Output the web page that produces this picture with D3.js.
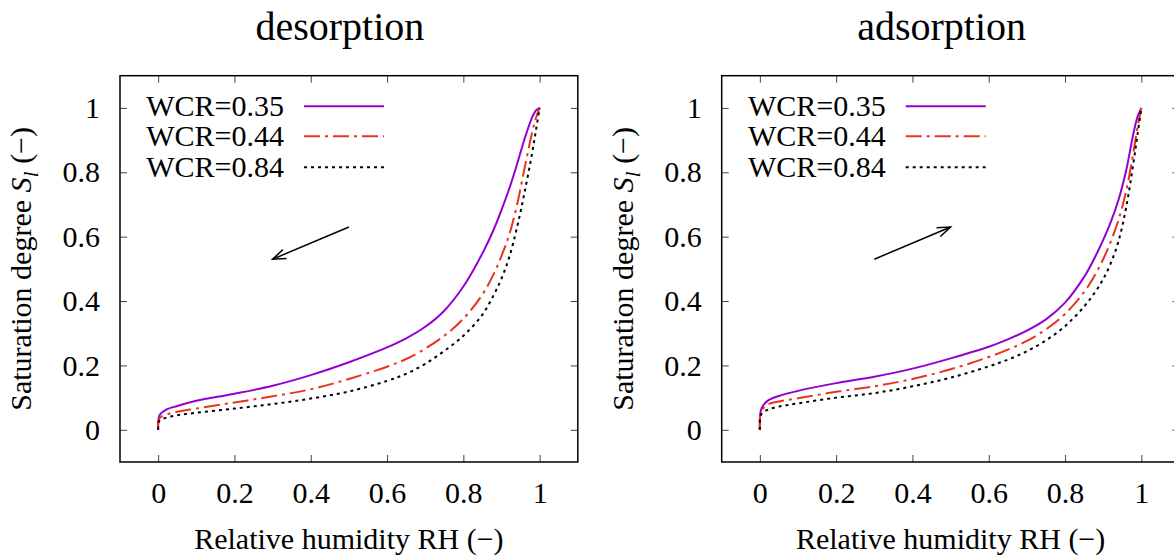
<!DOCTYPE html>
<html>
<head>
<meta charset="utf-8">
<script src="https://cdn.jsdelivr.net/npm/d3@7"></script>
<style>
  body { margin: 0; background: #fff; }
  svg text { font-family: "Liberation Serif", "Times New Roman", Times, "Nimbus Roman", "Noto Serif", "DejaVu Serif", serif; fill: #000; }
</style>
</head>
<body>
<div id="chart"></div>
<script>
// relative humidity sample points (shared by all curves)
const rh = [0, 0.001, 0.005, 0.02, 0.05, 0.1, 0.2, 0.3, 0.4, 0.5, 0.6, 0.65, 0.7, 0.75, 0.8, 0.85, 0.88, 0.9, 0.92, 0.94, 0.96, 0.98, 0.99, 1];

// desorption saturation degree
const desWcr035 = [0, 0.035, 0.048, 0.062, 0.074, 0.090, 0.112, 0.137, 0.170, 0.210, 0.256, 0.284, 0.320, 0.370, 0.445, 0.548, 0.623, 0.683, 0.748, 0.822, 0.902, 0.970, 0.992, 1];
const desWcr044 = [0, 0.028, 0.038, 0.047, 0.056, 0.066, 0.085, 0.104, 0.126, 0.158, 0.196, 0.220, 0.252, 0.292, 0.345, 0.420, 0.485, 0.540, 0.605, 0.695, 0.810, 0.922, 0.968, 1];
const desWcr084 = [0, 0.022, 0.030, 0.037, 0.045, 0.053, 0.066, 0.080, 0.097, 0.119, 0.152, 0.174, 0.205, 0.245, 0.292, 0.358, 0.420, 0.470, 0.535, 0.625, 0.735, 0.858, 0.928, 1];

// adsorption saturation degree
const adsWcr035 = [0, 0.050, 0.068, 0.090, 0.105, 0.121, 0.145, 0.165, 0.190, 0.222, 0.258, 0.281, 0.308, 0.343, 0.395, 0.475, 0.540, 0.590, 0.646, 0.714, 0.805, 0.925, 0.972, 1];
const adsWcr044 = [0, 0.045, 0.060, 0.078, 0.088, 0.098, 0.118, 0.135, 0.158, 0.188, 0.226, 0.249, 0.276, 0.312, 0.360, 0.428, 0.484, 0.530, 0.585, 0.652, 0.740, 0.868, 0.940, 1];
const adsWcr084 = [0, 0.038, 0.050, 0.062, 0.072, 0.082, 0.100, 0.114, 0.135, 0.162, 0.197, 0.218, 0.244, 0.278, 0.322, 0.383, 0.430, 0.468, 0.518, 0.585, 0.690, 0.835, 0.918, 1];

const seriesNames = ["WCR=0.35", "WCR=0.44", "WCR=0.84"];
const panelTitles = ["desorption", "adsorption"];
const tickValues = [0, 0.2, 0.4, 0.6, 0.8, 1];
const tickLabels = ["0", "0.2", "0.4", "0.6", "0.8", "1"];
// arrow [from, to] in data coords
const desArrow = [[0.5, 0.63], [0.3, 0.53]];
const adsArrow = [[0.3, 0.53], [0.5, 0.63]];

const colors = ["#9400d3", "#e8331f", "#000000"];
const dashes = [null, "16,5,3,5", "3,4"];
const serif = '"Liberation Serif", "Times New Roman", Times, "Nimbus Roman", "Noto Serif", "DejaVu Serif", serif';

const W = 1174, H = 557;
const svg = d3.select("#chart").append("svg")
    .attr("width", W)
    .attr("height", H);

const panels = [
  { left: 120, title: panelTitles[0], data: [desWcr035, desWcr044, desWcr084], arrow: desArrow },
  { left: 721.7, title: panelTitles[1], data: [adsWcr035, adsWcr044, adsWcr084], arrow: adsArrow }
];

const pw = 457.8, ph = 386.3, plotTop = 75.7;

panels.forEach(function(p) {
  const g = svg.append("g").attr("transform", "translate(" + p.left + "," + plotTop + ")");

  const x = d3.scaleLinear().domain([-0.1, 1.1]).range([0, pw]);
  const y = d3.scaleLinear().domain([-0.1, 1.1]).range([ph, 0]);

  // axes with inward ticks on all sides
  const fmt = d => tickLabels[tickValues.indexOf(d)];
  const xAxis = g.append("g").attr("transform", "translate(0," + ph + ")")
    .call(d3.axisBottom(x).tickValues(tickValues).tickFormat(fmt).tickSize(-7).tickPadding(22))
    .call(a => a.select(".domain").remove());
  g.append("g")
    .call(d3.axisTop(x).tickValues(tickValues).tickFormat("").tickSize(-7))
    .call(a => a.select(".domain").remove());
  g.append("g")
    .call(d3.axisLeft(y).tickValues(tickValues).tickFormat(fmt).tickSize(-7).tickPadding(20))
    .call(a => a.select(".domain").remove());
  g.append("g").attr("transform", "translate(" + pw + ",0)")
    .call(d3.axisRight(y).tickValues(tickValues).tickFormat("").tickSize(-7))
    .call(a => a.select(".domain").remove());

  g.selectAll("g").attr("font-family", serif);
  g.selectAll(".tick line").attr("stroke", "#444").attr("stroke-width", 1);
  g.selectAll(".tick text")
    .style("font-family", serif)
    .style("font-size", "30px")
    .attr("fill", "#000");
  xAxis.selectAll(".tick text").attr("dy", "0.62em");

  // frame
  g.append("rect")
    .attr("x", 0).attr("y", 0)
    .attr("width", pw).attr("height", ph)
    .attr("fill", "none")
    .attr("stroke", "#000")
    .attr("stroke-width", 1.5);

  // curves
  const line = d3.line()
    .x((d, i) => x(rh[i]))
    .y(d => y(d))
    .curve(d3.curveCatmullRom.alpha(0.5));

  p.data.forEach(function(vals, k) {
    g.append("path")
      .datum(vals)
      .attr("d", line)
      .attr("fill", "none")
      .attr("stroke", colors[k])
      .attr("stroke-width", 2)
      .attr("stroke-dasharray", dashes[k]);
  });

  // legend
  const legendRows = [30.6, 60.6, 91.6];
  seriesNames.forEach(function(name, k) {
    g.append("text")
      .attr("x", 164).attr("y", legendRows[k] + 10)
      .attr("text-anchor", "end")
      .style("font-size", "30px")
      .text(name);
    g.append("line")
      .attr("x1", 184).attr("x2", 264)
      .attr("y1", legendRows[k]).attr("y2", legendRows[k])
      .attr("stroke", colors[k])
      .attr("stroke-width", 2)
      .attr("stroke-dasharray", dashes[k]);
  });

  // arrow
  const a0 = p.arrow[0], a1 = p.arrow[1];
  const x0 = x(a0[0]), y0 = y(a0[1]), x1 = x(a1[0]), y1 = y(a1[1]);
  const ang = Math.atan2(y1 - y0, x1 - x0);
  const hl = 14, ha = 0.35;
  g.append("line")
    .attr("x1", x0).attr("y1", y0).attr("x2", x1).attr("y2", y1)
    .attr("stroke", "#000").attr("stroke-width", 1.5);
  g.append("path")
    .attr("d", "M" + (x1 - hl * Math.cos(ang - ha)) + "," + (y1 - hl * Math.sin(ang - ha)) +
               "L" + x1 + "," + y1 +
               "L" + (x1 - hl * Math.cos(ang + ha)) + "," + (y1 - hl * Math.sin(ang + ha)))
    .attr("fill", "none").attr("stroke", "#000").attr("stroke-width", 1.5);

  // title
  g.append("text")
    .attr("x", pw / 2 - 9).attr("y", 40 - plotTop)
    .attr("text-anchor", "middle")
    .style("font-size", "40px")
    .text(p.title);

  // x label
  g.append("text")
    .attr("x", pw / 2).attr("y", 549 - plotTop)
    .attr("text-anchor", "middle")
    .style("font-size", "30px")
    .text("Relative humidity RH (\u2212)");

  // y label
  const yl = g.append("text")
    .attr("transform", "translate(" + (31 - 120) + "," + (ph / 2) + ") rotate(-90)")
    .attr("text-anchor", "middle")
    .style("font-size", "30px");
  yl.append("tspan").text("Saturation degree ");
  yl.append("tspan").style("font-style", "italic").text("S");
  yl.append("tspan").style("font-style", "italic").style("font-size", "22px").attr("dy", 7).text("l");
  yl.append("tspan").attr("dy", -7).text(" (\u2212)");
});
</script>
</body>
</html>
